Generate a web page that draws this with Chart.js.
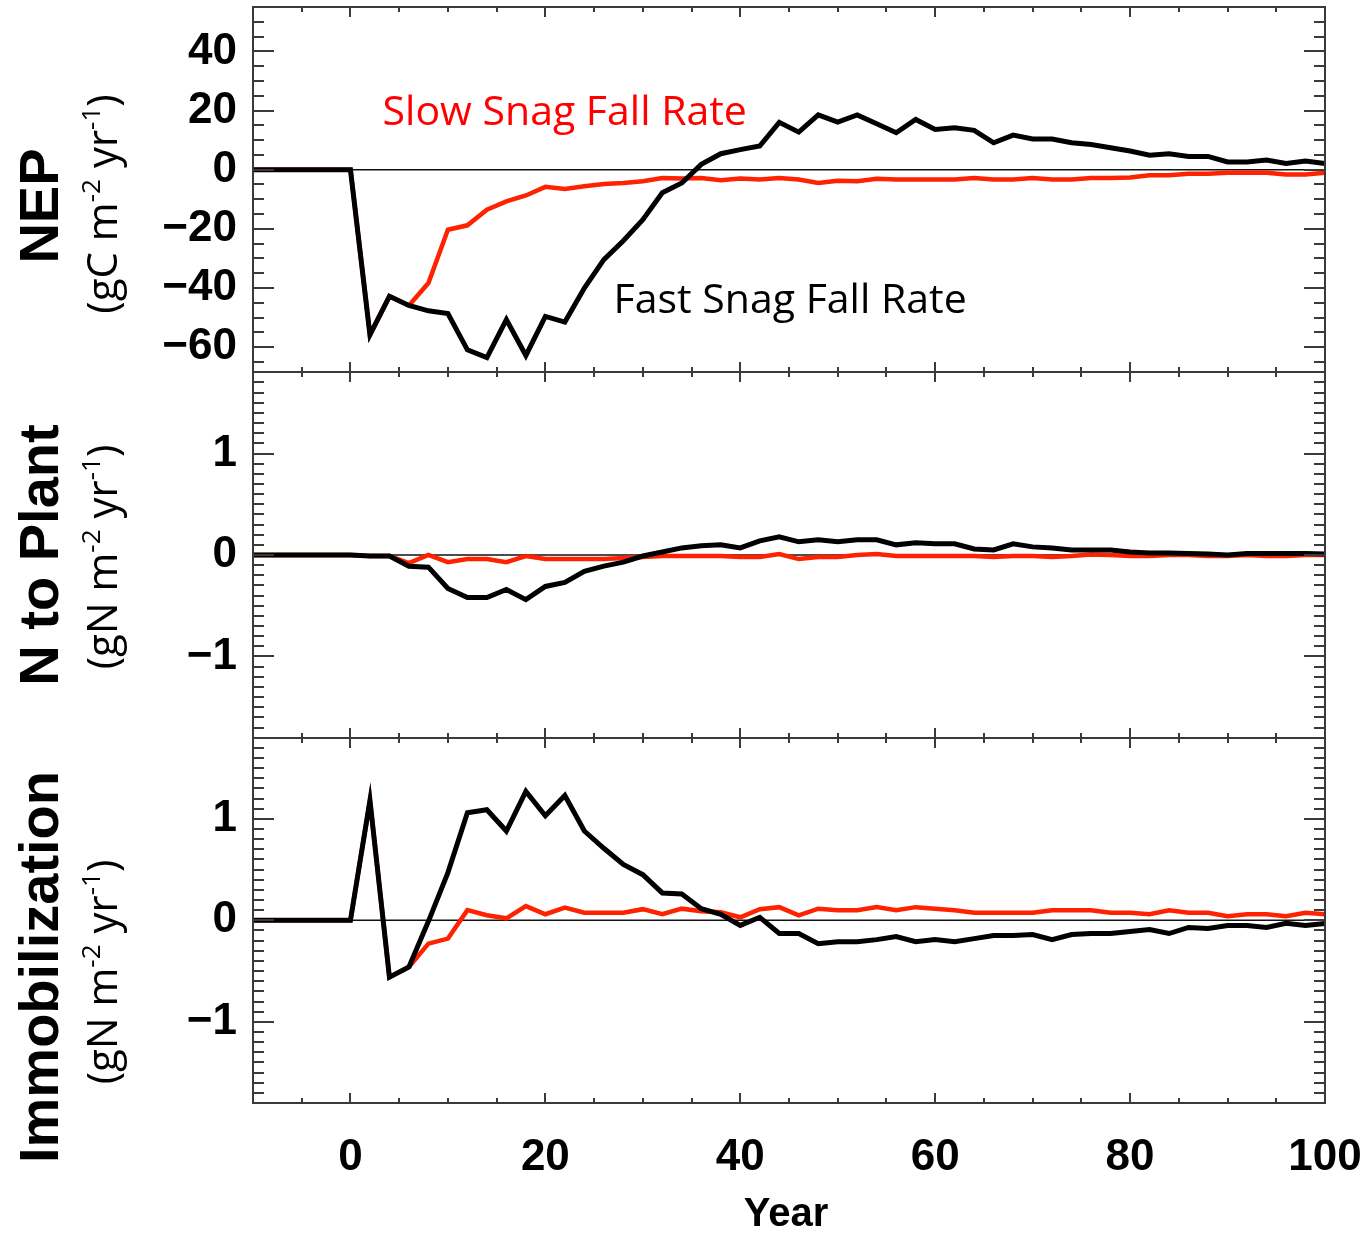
<!DOCTYPE html>
<html>
<head>
<meta charset="utf-8">
<script src="https://cdn.jsdelivr.net/npm/chart.js@4.4.1/dist/chart.umd.min.js"></script>
<style>
  html, body { margin: 0; padding: 0; background: #fff; }
  #wrap { position: relative; width: 1371px; height: 1234px; }
</style>
</head>
<body>
<div id="wrap"><canvas id="snagChart" width="1371" height="1234"></canvas></div>
<script>
// Years after disturbance (one value every 2 years)
const years = [-10, 0,
  2, 4, 6, 8, 10,
  12, 14, 16, 18, 20,
  22, 24, 26, 28, 30,
  32, 34, 36, 38, 40,
  42, 44, 46, 48, 50,
  52, 54, 56, 58, 60,
  62, 64, 66, 68, 70,
  72, 74, 76, 78, 80,
  82, 84, 86, 88, 90,
  92, 94, 96, 98, 100];

// NEP (gC m-2 yr-1)
const nepFast = [0, 0,
  -55.8, -42.8, -45.9, -47.7, -48.6,
  -60.9, -63.5, -50.7, -62.8, -49.6,
  -51.5, -40.0, -30.4, -24.0, -16.9,
  -7.8, -4.5, 1.8, 5.4, 6.8,
  8.0, 16.0, 12.7, 18.5, 16.1,
  18.5, 15.5, 12.5, 17.0, 13.6,
  14.2, 13.3, 9.1, 11.7, 10.4,
  10.4, 9.1, 8.5, 7.4, 6.3,
  4.9, 5.4, 4.5, 4.5, 2.6,
  2.6, 3.3, 2.1, 2.9, 2.1];
const nepSlow = [0, 0,
  -55.8, -42.8, -45.9, -38.3, -20.3,
  -18.8, -13.5, -10.7, -8.7, -5.8,
  -6.5, -5.6, -4.8, -4.5, -3.9,
  -2.8, -3.0, -2.8, -3.6, -3.0,
  -3.3, -2.8, -3.3, -4.5, -3.7,
  -3.9, -3.1, -3.3, -3.3, -3.3,
  -3.3, -2.8, -3.3, -3.3, -2.8,
  -3.3, -3.3, -2.8, -2.8, -2.6,
  -1.9, -1.9, -1.4, -1.4, -1.0,
  -1.0, -1.0, -1.6, -1.6, -1.0];

// N to Plant (gN m-2 yr-1)
const plantFast = [0, 0,
  -0.01, -0.01, -0.11, -0.12, -0.33,
  -0.42, -0.42, -0.34, -0.44, -0.31,
  -0.27, -0.16, -0.11, -0.07, -0.01,
  0.03, 0.07, 0.09, 0.10, 0.07,
  0.14, 0.18, 0.13, 0.15, 0.13,
  0.15, 0.15, 0.10, 0.12, 0.11,
  0.11, 0.06, 0.05, 0.11, 0.08,
  0.07, 0.05, 0.05, 0.05, 0.03,
  0.02, 0.02, 0.015, 0.01, 0.0,
  0.015, 0.015, 0.015, 0.015, 0.01];
const plantSlow = [0, 0,
  -0.01, -0.01, -0.08, 0.0, -0.07,
  -0.04, -0.04, -0.07, -0.01, -0.04,
  -0.04, -0.04, -0.04, -0.03, -0.02,
  -0.01, -0.01, -0.01, -0.01, -0.02,
  -0.02, 0.01, -0.04, -0.02, -0.02,
  0.0, 0.01, -0.01, -0.01, -0.01,
  -0.01, -0.01, -0.02, -0.01, -0.01,
  -0.02, -0.01, 0.005, 0.0, -0.01,
  -0.01, 0.0, 0.0, -0.01, -0.01,
  0.0, -0.01, -0.01, 0.0, 0.0];

// Immobilization (gN m-2 yr-1)
const immFast = [0, 0,
  1.18, -0.56, -0.46, -0.01, 0.47,
  1.06, 1.09, 0.88, 1.27, 1.03,
  1.23, 0.88, 0.71, 0.55, 0.45,
  0.27, 0.26, 0.115, 0.06, -0.05,
  0.03, -0.13, -0.13, -0.23, -0.21,
  -0.21, -0.19, -0.16, -0.21, -0.19,
  -0.21, -0.18, -0.15, -0.15, -0.14,
  -0.19, -0.14, -0.13, -0.13, -0.11,
  -0.09, -0.13, -0.07, -0.08, -0.05,
  -0.05, -0.07, -0.03, -0.05, -0.03];
const immSlow = [0, 0,
  1.18, -0.56, -0.46, -0.23, -0.18,
  0.10, 0.05, 0.02, 0.14, 0.06,
  0.125, 0.075, 0.075, 0.075, 0.11,
  0.06, 0.115, 0.09, 0.08, 0.03,
  0.11, 0.13, 0.05, 0.115, 0.10,
  0.10, 0.13, 0.10, 0.13, 0.115,
  0.10, 0.075, 0.075, 0.075, 0.075,
  0.10, 0.10, 0.10, 0.075, 0.075,
  0.06, 0.10, 0.075, 0.075, 0.04,
  0.06, 0.06, 0.04, 0.075, 0.06];

// tick labels
const xTickLabels = [0, 20, 40, 60, 80, 100];
const nepTickLabels = [-60, -40, -20, 0, 20, 40];
const nTickLabels = [-1, 0, 1];

const panelTitles = ['NEP', 'N to Plant', 'Immobilization'];
const panelUnits = ['gC', 'gN', 'gN'];

const RED = '#ff2200';
const FRAME = '#3a3a3a';
const tickFont = { family: '"Liberation Sans", Arial, sans-serif', size: 44, weight: 'bold' };

const toPoints = vals => years.map((x, i) => ({ x: x, y: vals[i] }));
const minusFmt = v => (v < 0 ? '\u2212' + Math.abs(v) : String(v));

function yScale(min, max, labels, weight) {
    return {
        type: 'linear', position: 'left', stack: 'panels', stackWeight: 1, weight: weight,
        min: min, max: max,
        grid: { display: false, drawTicks: false }, border: { display: false },
        afterBuildTicks: s => { s.ticks = labels.map(v => ({ value: v })); },
        ticks: { padding: 16, color: '#000', font: tickFont, callback: minusFmt, autoSkip: false },
        afterFit: s => { s.width = 253; s.paddingTop = 0; s.paddingBottom = 0; }
    };
}

// panel frames, inward ticks, zero lines and the text labels
const panels = [
    { id: 'yNep', minor: 5, major: 20 },
    { id: 'yPlant', minor: 0.1, major: 1 },
    { id: 'yImm', minor: 0.1, major: 1 }
];

function drawRotated(ctx, cx, cy, runs) {
    let total = 0;
    runs.forEach(r => { ctx.font = r.font; r.w = ctx.measureText(r.text).width; total += r.w; });
    ctx.save();
    ctx.translate(cx, cy);
    ctx.rotate(-Math.PI / 2);
    ctx.textAlign = 'left';
    ctx.textBaseline = 'alphabetic';
    ctx.fillStyle = '#000';
    let x = -total / 2;
    runs.forEach(r => { ctx.font = r.font; ctx.fillText(r.text, x, -(r.rise || 0)); x += r.w; });
    ctx.restore();
}

const figurePlugin = {
    id: 'figure',
    beforeDatasetsDraw(chart) {
        const { ctx, chartArea: a } = chart;
        ctx.save();
        ctx.strokeStyle = '#111';
        ctx.lineWidth = 1.5;
        panels.forEach(p => {
            const y = chart.scales[p.id].getPixelForValue(0);
            ctx.beginPath();
            ctx.moveTo(a.left, y);
            ctx.lineTo(a.right, y);
            ctx.stroke();
        });
        ctx.restore();
    },
    afterDatasetsDraw(chart) {
        const { ctx, chartArea: a, scales } = chart;
        const xs = scales.x;
        ctx.save();
        ctx.strokeStyle = FRAME;
        ctx.lineWidth = 2;
        panels.forEach(p => {
            const s = scales[p.id];
            const top = Math.round(s.top), bot = Math.round(s.bottom);
            ctx.strokeRect(Math.round(a.left), top, Math.round(a.right) - Math.round(a.left), bot - top);
            ctx.beginPath();
            const k0 = Math.ceil(s.min / p.minor - 1e-6), k1 = Math.floor(s.max / p.minor + 1e-6);
            for (let k = k0; k <= k1; k++) {
                const v = k * p.minor;
                const y = Math.round(s.getPixelForValue(v));
                if (y - top < 2 || bot - y < 2) continue;
                const major = Math.abs(v / p.major - Math.round(v / p.major)) < 1e-6;
                const len = major ? 21 : 11;
                ctx.moveTo(a.left, y); ctx.lineTo(a.left + len, y);
                ctx.moveTo(a.right, y); ctx.lineTo(a.right - len, y);
            }
            for (let k = -1; k <= 19; k++) {
                const v = k * 5;
                const x = Math.round(xs.getPixelForValue(v));
                const len = v % 20 === 0 ? 10 : 5;
                ctx.moveTo(x, top); ctx.lineTo(x, top + len);
                ctx.moveTo(x, bot); ctx.lineTo(x, bot - len);
            }
            ctx.stroke();
        });
        ctx.restore();

        // axis titles
        const centers = [[206, 204], [555, 557], [967, 972]];
        panels.forEach((p, i) => {
            drawRotated(ctx, 58, centers[i][0], [
                { text: panelTitles[i], font: 'bold 56px "Liberation Sans", Arial, sans-serif' }
            ]);
            const big = '42px "Open Sans", sans-serif', sup = '26px "Open Sans", sans-serif';
            drawRotated(ctx, 117, centers[i][1], [
                { text: '(' + panelUnits[i] + ' m', font: big },
                { text: '-2', font: sup, rise: 17 },
                { text: ' yr', font: big },
                { text: '-1', font: sup, rise: 17 },
                { text: ')', font: big }
            ]);
        });

        // in-plot labels
        const ny = scales.yNep;
        ctx.save();
        ctx.font = '41px "Open Sans", sans-serif';
        ctx.textAlign = 'left';
        ctx.textBaseline = 'alphabetic';
        ctx.fillStyle = '#ff0000';
        ctx.fillText('Slow Snag Fall Rate', xs.getPixelForValue(3.3), ny.getPixelForValue(15));
        ctx.fillStyle = '#000';
        ctx.fillText('Fast Snag Fall Rate', xs.getPixelForValue(27), ny.getPixelForValue(-48.5));

        ctx.font = 'bold 40px "Liberation Sans", Arial, sans-serif';
        ctx.textAlign = 'center';
        ctx.textBaseline = 'middle';
        ctx.fillText('Year', xs.getPixelForValue(44.7), 1215);
        ctx.restore();
    }
};

function line(vals, yAxisID, color, width, order) {
    return {
        data: toPoints(vals), yAxisID: yAxisID, borderColor: color, borderWidth: width,
        pointRadius: 0, tension: 0, fill: false, order: order, borderJoinStyle: 'miter'
    };
}

function build() {
    const ctx = document.getElementById('snagChart').getContext('2d');
    new Chart(ctx, {
        type: 'line',
        data: {
            datasets: [
                line(nepFast, 'yNep', '#000', 5, 0),
                line(plantFast, 'yPlant', '#000', 5, 0),
                line(immFast, 'yImm', '#000', 5, 0),
                line(nepSlow, 'yNep', RED, 4.5, 1),
                line(plantSlow, 'yPlant', RED, 4.5, 1),
                line(immSlow, 'yImm', RED, 4.5, 1)
            ]
        },
        options: {
            responsive: false,
            animation: false,
            devicePixelRatio: 1,
            layout: { padding: { top: 7, right: 46, left: 0, bottom: 0 } },
            plugins: { legend: { display: false }, tooltip: { enabled: false } },
            scales: {
                x: {
                    type: 'linear', position: 'bottom', min: -10, max: 100,
                    grid: { display: false, drawTicks: false }, border: { display: false },
                    afterBuildTicks: s => { s.ticks = xTickLabels.map(v => ({ value: v })); },
                    ticks: { padding: 28, color: '#000', font: tickFont, autoSkip: false, maxRotation: 0 },
                    afterFit: s => { s.height = 131; s.paddingLeft = 0; s.paddingRight = 0; }
                },
                yNep: yScale(-68.5, 55, nepTickLabels, 3),
                yPlant: yScale(-1.8, 1.8, nTickLabels, 2),
                yImm: yScale(-1.8, 1.8, nTickLabels, 1)
            }
        },
        plugins: [figurePlugin]
    });
}

Promise.all([
    document.fonts.load('42px "Open Sans"'),
    document.fonts.load('bold 56px "Liberation Sans"')
]).then(build, build);
</script>
</body>
</html>
